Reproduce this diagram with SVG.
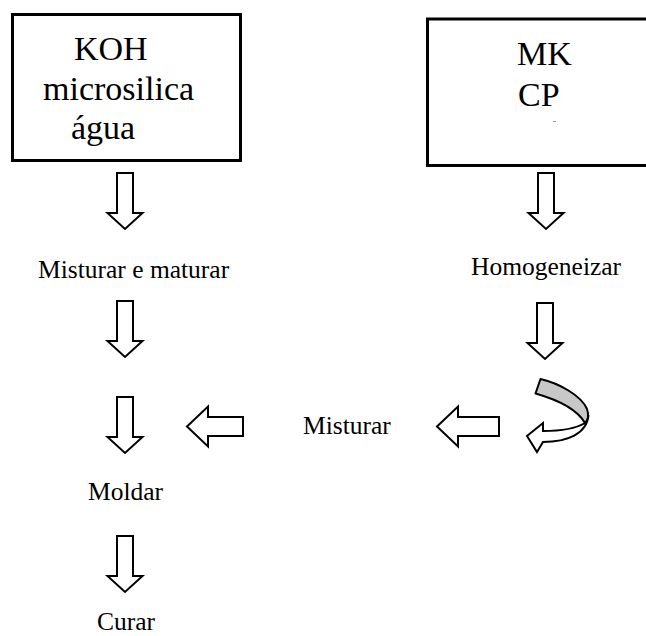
<svg xmlns="http://www.w3.org/2000/svg" width="646" height="636" viewBox="0 0 646 636">
  <style>
    .box { fill: #ffffff; stroke: #000000; stroke-width: 3; }
    .big { font-size: 34px; }
    .lbl { font-size: 25.5px; }
    .arr { fill: #ffffff; stroke: #000000; stroke-width: 2; stroke-linejoin: miter; }
    .back { fill: #c8c8c8; stroke: #000000; stroke-width: 2; stroke-linejoin: round; }
  </style>
  <defs>
    <!-- block arrow pointing down; origin at top centre of the shaft -->
    <path id="down" d="M -8,0 H 8 V 40 H 17.5 L 0,56 L -17.5,40 H -8 Z"/>
  </defs>

  <rect width="646" height="636" fill="#ffffff"/>

  <g id="inputs-left">
    <rect class="box" x="12.5" y="14.5" width="228" height="146"/>
    <text class="big" font-family="Liberation Serif, serif" x="74" y="60">KOH</text>
    <text class="big" font-family="Liberation Serif, serif" x="43" y="100">microsilica</text>
    <text class="big" font-family="Liberation Serif, serif" x="71" y="139">água</text>
  </g>

  <g id="inputs-right">
    <rect class="box" x="427.5" y="19" width="240" height="146.5"/>
    <text class="big" font-family="Liberation Serif, serif" x="517" y="65">MK</text>
    <text class="big" font-family="Liberation Serif, serif" x="518" y="106">CP</text>
    <rect x="553" y="121" width="3" height="1" fill="#9a9a9a"/>
  </g>

  <g id="step-misturar-maturar">
    <text class="lbl" font-family="Liberation Serif, serif" x="38" y="278">Misturar e maturar</text>
  </g>
  <g id="step-homogeneizar">
    <text class="lbl" font-family="Liberation Serif, serif" x="471" y="275">Homogeneizar</text>
  </g>
  <g id="step-misturar">
    <text class="lbl" font-family="Liberation Serif, serif" x="303" y="434">Misturar</text>
  </g>
  <g id="step-moldar">
    <text class="lbl" font-family="Liberation Serif, serif" x="88" y="500">Moldar</text>
  </g>
  <g id="step-curar">
    <text class="lbl" font-family="Liberation Serif, serif" x="97" y="630">Curar</text>
  </g>

  <g id="connectors">
    <!-- left column -->
    <use href="#down" class="arr" x="125" y="173"/>
    <use href="#down" class="arr" x="125" y="301"/>
    <use href="#down" class="arr" x="125" y="397"/>
    <use href="#down" class="arr" x="125" y="536"/>
    <!-- right column -->
    <use href="#down" class="arr" x="546" y="173"/>
    <use href="#down" class="arr" x="545" y="303"/>
    <!-- leftward arrows -->
    <path class="arr" d="M 187,426.5 L 208,406.5 V 417 H 243 V 436 H 208 V 446.5 Z"/>
    <path class="arr" d="M 437,426.5 L 458,406.5 V 417 H 499 V 436 H 458 V 446.5 Z"/>
    <!-- curled arrow turning back to the left -->
    <path class="arr" d="M 585,423 C 575,429 560,431 543,431 L 543,423 L 527,436 L 537,452 L 543,442 C 567,442 587,434 588.5,415 Z"/>
    <path class="back" d="M 540.5,379 C 558,383 581,395 587,409 C 589,415 588,420 585,423 C 578,411 562,401 535.5,393.5 Z"/>
  </g>
</svg>
